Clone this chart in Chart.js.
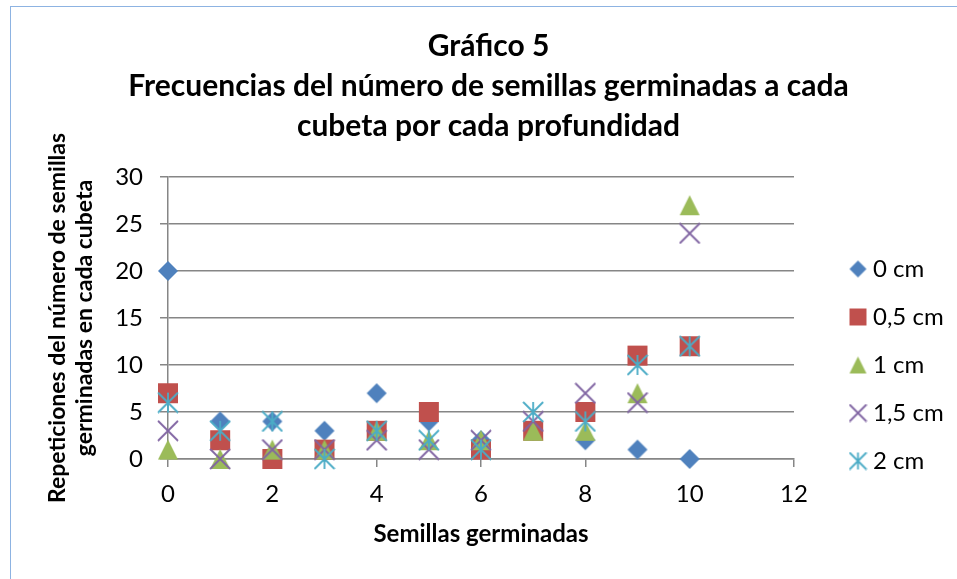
<!DOCTYPE html>
<html>
<head>
<meta charset="utf-8">
<title>Gráfico 5</title>
<script src="https://cdn.jsdelivr.net/npm/chart.js@4/dist/chart.umd.min.js"></script>
<style>
  html, body { margin: 0; padding: 0; background: #fff; overflow: hidden; }
  #frame { position: absolute; left: 10px; top: 6px; width: 1100px; height: 700px; border: 1px solid #8db3e2; }
  #chart { position: absolute; left: 0; top: 0; }
</style>
</head>
<body>
<div id="frame"></div>
<canvas id="chart" width="957" height="579"></canvas>
<script>
// values
const semillas = [0, 1, 2, 3, 4, 5, 6, 7, 8, 9, 10];
const prof0   = [20, 4, 4, 3, 7, 4, 2, 3, 2, 1, 0];
const prof05  = [7, 2, 0, 1, 3, 5, 1, 3, 5, 11, 12];
const prof1   = [1, 0, 1, 1, 3, 2, 2, 3, 3, 7, 27];
const prof15  = [3, 0, 1, 1, 2, 1, 2, 4, 7, 6, 24];
const prof2   = [6, 3, 4, 0, 3, 2, 1, 5, 4, 10, 12];
const seriesNames = ['0 cm', '0,5 cm', '1 cm', '1,5 cm', '2 cm'];
const xTicks = [0, 2, 4, 6, 8, 10, 12];
const yTicks = [0, 5, 10, 15, 20, 25, 30];

const FONT = 'Lato';
const GRID = '#868686';

// excel-like markers drawn into small canvases
function marker(kind, size, color){
  const s = size + 2, c = document.createElement('canvas');
  c.width = c.height = s;
  const ctx = c.getContext('2d'), m = s / 2, r = size / 2;
  ctx.fillStyle = color; ctx.strokeStyle = color; ctx.lineWidth = 1.8;
  ctx.beginPath();
  if(kind === 'diamond'){
    ctx.moveTo(m, m - r); ctx.lineTo(m + r, m); ctx.lineTo(m, m + r); ctx.lineTo(m - r, m);
    ctx.closePath(); ctx.fill();
  } else if(kind === 'square'){
    ctx.rect(m - r, m - r, size, size); ctx.fill();
  } else if(kind === 'triangle'){
    ctx.moveTo(m, m - r); ctx.lineTo(m + r, m + r); ctx.lineTo(m - r, m + r);
    ctx.closePath(); ctx.fill();
  } else {
    ctx.moveTo(m - r, m - r); ctx.lineTo(m + r, m + r);
    ctx.moveTo(m + r, m - r); ctx.lineTo(m - r, m + r);
    if(kind === 'star'){ ctx.moveTo(m, m - r); ctx.lineTo(m, m + r); }
    ctx.stroke();
  }
  return c;
}

const looks = [
  { kind: 'diamond', color: '#4f81bd' },
  { kind: 'square', color: '#c0504d' },
  { kind: 'triangle', color: '#9bbb59' },
  { kind: 'cross', color: '#8064a2' },
  { kind: 'star', color: '#4bacc6' }
];
const bigMarks = looks.map(l => marker(l.kind, 20, l.color));
const smallMarks = looks.map(l => marker(l.kind, 17, l.color));

const allSeries = [prof0, prof05, prof1, prof15, prof2];
const datasets = allSeries.map((vals, i) => ({
  label: seriesNames[i],
  data: semillas.map((x, j) => ({ x, y: vals[j] })),
  pointStyle: bigMarks[i],
  pointRadius: 10,
  backgroundColor: looks[i].color,
  borderColor: looks[i].color,
  showLine: false,
  clip: false,
  order: allSeries.length - i   // later series on top, like excel
}));

// legend sits a bit right of the plot and lower down
const legendNudge = {
  id: 'legendNudge',
  afterLayout(chart){
    const lg = chart.legend;
    if(!lg) return;
    lg.left += 37; lg.right += 37;
    lg.top += 233; lg.bottom += 233;
  }
};

new Chart(document.getElementById('chart'), {
  type: 'scatter',
  data: { datasets },
  plugins: [legendNudge],
  options: {
    responsive: false,
    animation: false,
    layout: { padding: { left: 20, right: 0, top: 0, bottom: 0 } },
    plugins: {
      title: {
        display: true,
        text: ['Gráfico 5', 'Frecuencias del número de semillas germinadas a cada', 'cubeta por cada profundidad'],
        color: '#000',
        font: { family: FONT, size: 30, weight: 'bold', lineHeight: 40 / 30 },
        padding: { top: 26, bottom: 31 }
      },
      legend: {
        position: 'right',
        align: 'start',
        labels: {
          usePointStyle: true,
          pointStyleWidth: 6,
          padding: 24,
          color: '#000',
          font: { family: FONT, size: 24 },
          sort: (a, b) => a.datasetIndex - b.datasetIndex,
          generateLabels(chart){
            const items = Chart.defaults.plugins.legend.labels.generateLabels(chart);
            items.forEach(it => { it.pointStyle = smallMarks[it.datasetIndex]; });
            return items;
          }
        }
      },
      tooltip: { enabled: false }
    },
    scales: {
      x: {
        type: 'linear',
        min: 0, max: 12,
        afterBuildTicks: s => { s.ticks = xTicks.map(v => ({ value: v })); },
        afterFit: s => { s.height = 120; s.paddingRight = 163; },
        ticks: { color: '#000', padding: 13, font: { family: FONT, size: 24 } },
        grid: { drawOnChartArea: false, drawTicks: true, tickLength: 8, color: GRID, lineWidth: 1.5 },
        border: { color: GRID, width: 1.5 },
        title: {
          display: true,
          text: 'Semillas germinadas',
          color: '#000',
          font: { family: FONT, size: 24, weight: 'bold', lineHeight: 1.2 },
          padding: { top: 0, bottom: 30 }
        }
      },
      y: {
        type: 'linear',
        min: 0, max: 30,
        afterBuildTicks: s => { s.ticks = yTicks.map(v => ({ value: v })); },
        afterFit: s => { s.width = 148; },
        ticks: { color: '#000', padding: 17, font: { family: FONT, size: 24 } },
        grid: { color: GRID, lineWidth: 1.5, tickLength: 8 },
        border: { color: GRID, width: 1.5 },
        title: {
          display: true,
          text: ['Repeticiones del número de semillas', 'germinadas en cada cubeta'],
          color: '#000',
          font: { family: FONT, size: 23, weight: 'bold', lineHeight: 27 / 23 },
          padding: { top: 24.5, bottom: 0 }
        }
      }
    }
  }
});
</script>
</body>
</html>
